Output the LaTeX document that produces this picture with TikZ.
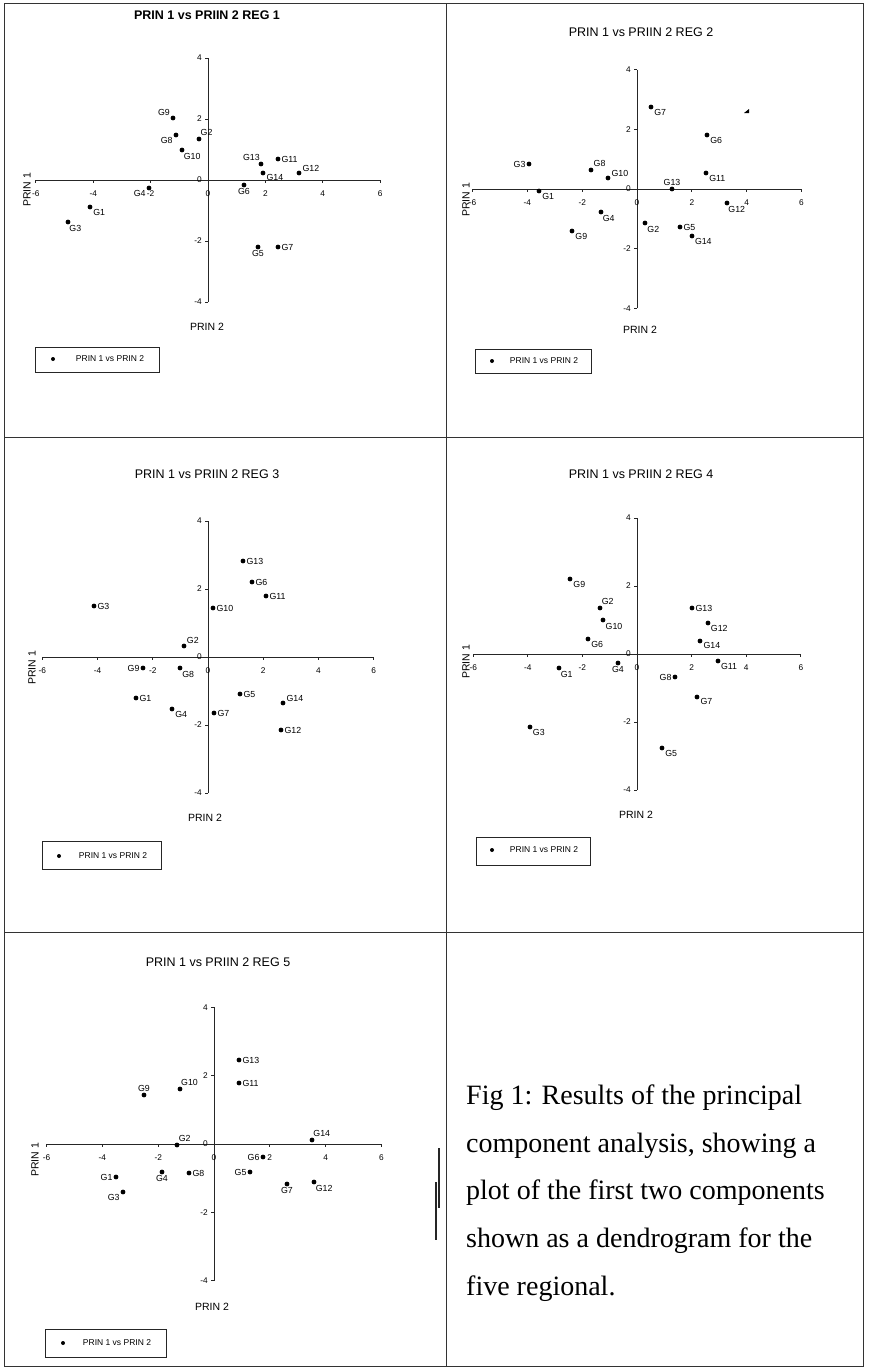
\documentclass[tikz,border=0pt]{standalone}
\usepackage{fontspec}
\setmainfont{Liberation Serif}
\newfontfamily\arialf{Liberation Sans}
\tikzset{
 frm/.style={line width=0.9pt, black!80},
 axis/.style={line width=0.7pt, black!85},
 dot/.style={circle, fill=black, inner sep=0pt, minimum size=4.8pt},
 ldot/.style={circle, fill=black, inner sep=0pt, minimum size=4pt},
 glab/.style={font=\arialf\fontsize{8.8}{9}\selectfont, inner sep=0.8pt},
 tl/.style={font=\arialf\fontsize{8.3}{9}\selectfont, inner sep=0pt},
 ttl/.style={font=\arialf\fontsize{12.5}{14}\selectfont, inner sep=0pt},
 axl/.style={font=\arialf\fontsize{10.5}{12}\selectfont, inner sep=0pt},
 legbox/.style={draw, line width=0.7pt, black!85},
 legt/.style={font=\arialf\fontsize{8.5}{10}\selectfont, inner sep=0pt},
 captxt/.style={font=\fontsize{28}{30}\selectfont, anchor=base west, inner sep=0pt},
}
% axes: #1 ox, #2 oy, #3 px per unit x, #4 px per unit y, #5 prefix
\newcommand\pcaxes[5]{%
 \draw[axis] (#1-6*#3,#2) -- (#1+6*#3,#2);
 \draw[axis] (#1,#2-4*#4) -- (#1,#2+4*#4);
 \foreach \v [count=\k] in {-6,-4,-2,0,2,4,6}{%
   \draw[axis] (#1+\v*#3,#2) -- ++(0,3);
   \node[tl] (#5x\k) at (#1+\v*#3,#2+14) {\v};}
 \foreach \v [count=\k] in {-4,-2,0,2,4}{%
   \draw[axis] (#1,#2-\v*#4) -- ++(-3,0);
   \node[tl,anchor=east] (#5y\k) at (#1-6,#2-\v*#4) {\v};}
}
\newcommand\gp[4]{\node[dot,label={[glab]#3:#4}] (#1) at #2 {};}
\newcommand\legendbox[5]{% #1 prefix #2 corner1 #3 corner2 #4 dot #5 text pos
 \draw[legbox] #2 rectangle #3;
 \node[ldot] (#1ld) at #4 {};
 \node[legt] (#1lt) at #5 {PRIN 1 vs PRIN 2};
}
\begin{document}
\begin{tikzpicture}[x=1pt,y=-1pt]
\useasboundingbox (0,0) rectangle (868,1368);
% frame
\draw[frm] (4,3) rectangle (863,1366);
\draw[frm] (446,3) -- (446,1366);
\draw[frm] (4,437) -- (863,437);
\draw[frm] (4,932) -- (863,932);

% ---------- Panel 1 ----------
\node[ttl,font=\arialf\bfseries\fontsize{12.5}{14}\selectfont] (t1) at (207,15) {PRIN 1 vs PRIIN 2 REG 1};
\pcaxes{208}{180}{28.7}{30.5}{a}
\node[axl,rotate=90] (a-p1) at (27,190) {PRIN 1};
\node[axl] (a-p2) at (207,327) {PRIN 2};
\gp{a9}{(173,118)}{150}{G9}
\gp{a8}{(176,135)}{200}{G8}
\gp{a2}{(199,139)}{75}{G2}
\gp{a10}{(182,150)}{290}{G10}
\gp{a13}{(261,164)}{95}{G13}
\gp{a11}{(278,159)}{0}{G11}
\gp{a14}{(263,173)}{-10}{G14}
\gp{a12}{(299,173)}{10}{G12}
\gp{a6}{(244,185)}{270}{G6}
\gp{a4}{(149,188)}{200}{G4}
\gp{a1}{(90,207)}{-30}{G1}
\gp{a3}{(68,222)}{280}{G3}
\gp{a5}{(258,247)}{270}{G5}
\gp{a7}{(278,247)}{0}{G7}
\legendbox{a}{(35,347)}{(159,372)}{(53,359)}{(110,359)}

% ---------- Panel 2 ----------
\node[ttl] (t2) at (641,32) {PRIN 1 vs PRIIN 2 REG 2};
\pcaxes{637}{189}{27.4}{29.8}{b}
\node[axl,rotate=90] (b-p1) at (466,200) {PRIN 1};
\node[axl] (b-p2) at (640,330) {PRIN 2};
\gp{b7}{(651,107)}{-25}{G7}
\gp{b6}{(707,135)}{-25}{G6}
\gp{b3}{(529,164)}{180}{G3}
\gp{b8}{(591,170)}{50}{G8}
\gp{b10}{(608,178)}{15}{G10}
\gp{b13}{(672,189)}{90}{G13}
\gp{b11}{(706,173)}{-25}{G11}
\gp{b1}{(539,191)}{-30}{G1}
\gp{b4}{(601,212)}{-70}{G4}
\gp{b12}{(727,203)}{-80}{G12}
\gp{b2}{(645,223)}{-55}{G2}
\gp{b5}{(680,227)}{0}{G5}
\gp{b14}{(692,236)}{-40}{G14}
\gp{b9}{(572,231)}{-20}{G9}
\fill (744,113) -- (749,109) -- (749,113) -- cycle;
\legendbox{b}{(475,349)}{(591,373)}{(492,361)}{(544,361)}

% ---------- Panel 3 ----------
\node[ttl] (t3) at (207,474) {PRIN 1 vs PRIIN 2 REG 3};
\pcaxes{208}{657}{27.6}{34}{c}
\node[axl,rotate=90] (c-p1) at (32,668) {PRIN 1};
\node[axl] (c-p2) at (205,818) {PRIN 2};
\gp{c13}{(243,561)}{0}{G13}
\gp{c6}{(252,582)}{0}{G6}
\gp{c11}{(266,596)}{0}{G11}
\gp{c10}{(213,608)}{0}{G10}
\gp{c3}{(94,606)}{0}{G3}
\gp{c2}{(184,646)}{40}{G2}
\gp{c9}{(143,668)}{180}{G9}
\gp{c8}{(180,668)}{-60}{G8}
\gp{c1}{(136,698)}{0}{G1}
\gp{c4}{(172,709)}{-30}{G4}
\gp{c7}{(214,713)}{0}{G7}
\gp{c5}{(240,694)}{0}{G5}
\gp{c14}{(283,703)}{10}{G14}
\gp{c12}{(281,730)}{0}{G12}
\legendbox{c}{(42,841)}{(161,869)}{(59,856)}{(113,856)}

% ---------- Panel 4 ----------
\node[ttl] (t4) at (641,474) {PRIN 1 vs PRIIN 2 REG 4};
\pcaxes{637}{654}{27.3}{34}{d}
\node[axl,rotate=90] (d-p1) at (466,662) {PRIN 1};
\node[axl] (d-p2) at (636,815) {PRIN 2};
\gp{d9}{(570,579)}{-20}{G9}
\gp{d2}{(600,608)}{70}{G2}
\gp{d10}{(603,620)}{-50}{G10}
\gp{d6}{(588,639)}{-30}{G6}
\gp{d13}{(692,608)}{0}{G13}
\gp{d12}{(708,623)}{-40}{G12}
\gp{d14}{(700,641)}{-10}{G14}
\gp{d11}{(718,661)}{-40}{G11}
\gp{d1}{(559,668)}{-70}{G1}
\gp{d4}{(618,663)}{270}{G4}
\gp{d8}{(675,677)}{180}{G8}
\gp{d7}{(697,697)}{-10}{G7}
\gp{d3}{(530,727)}{-40}{G3}
\gp{d5}{(662,748)}{-30}{G5}
\legendbox{d}{(476,837)}{(590,865)}{(492,850)}{(544,850)}

% ---------- Panel 5 ----------
\node[ttl] (t5) at (218,962) {PRIN 1 vs PRIIN 2 REG 5};
\pcaxes{214}{1144}{27.9}{34.2}{e}
\node[axl,rotate=90] (e-p1) at (35,1160) {PRIN 1};
\node[axl] (e-p2) at (212,1307) {PRIN 2};
\gp{e13}{(239,1060)}{0}{G13}
\gp{e11}{(239,1083)}{0}{G11}
\gp{e10}{(180,1089)}{85}{G10}
\gp{e9}{(144,1095)}{90}{G9}
\gp{e14}{(312,1140)}{80}{G14}
\gp{e2}{(177,1145)}{70}{G2}
\gp{e6}{(263,1157)}{180}{G6}
\gp{e1}{(116,1177)}{180}{G1}
\gp{e3}{(123,1192)}{200}{G3}
\gp{e4}{(162,1172)}{270}{G4}
\gp{e8}{(189,1173)}{0}{G8}
\gp{e5}{(250,1172)}{180}{G5}
\gp{e7}{(287,1184)}{270}{G7}
\gp{e12}{(314,1182)}{-70}{G12}
\legendbox{e}{(45,1329)}{(166,1357)}{(63,1343)}{(117,1343)}

% ---------- caption ----------
\draw[line width=2.4pt, black!85] (439,1148) -- (439,1208);
\draw[line width=2.4pt, black!85] (436,1182) -- (436,1240);
\node[captxt] (cap1) at (466,1104) {Fig 1: Results of the principal};
\node[captxt] (cap2) at (466,1152) {component analysis, showing a};
\node[captxt] (cap3) at (466,1199) {plot of the first two components};
\node[captxt] (cap4) at (466,1247) {shown as a dendrogram for the};
\node[captxt] (cap5) at (466,1295) {five regional.};
\end{tikzpicture}
\end{document}
